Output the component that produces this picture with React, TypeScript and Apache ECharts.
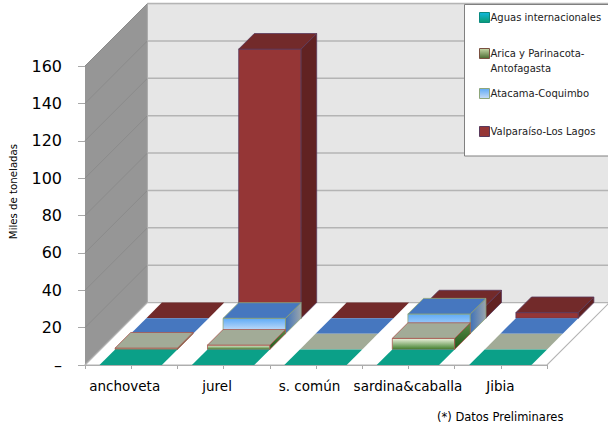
import React, { useEffect, useRef } from "react";
import * as echarts from "echarts";

const categories = ["anchoveta", "jurel", "s. común", "sardina&caballa", "Jibia"];
const categoryPad = [13, 13, 13, 1, 1];
const aguas = [0, 0, 0, 0, 0];
const arica = [0.7, 2.3, 0, 5.9, 0];
const atacama = [0, 8.3, 0, 10.6, 0];
const valparaiso = [0, 144, 0, 6.6, 3];
const yTicks = [0, 20, 40, 60, 80, 100, 120, 140, 160];

const FONT = "DejaVu Sans";
const ROW = 15.6;
const ROWS = 4;
const GAP = 0.157;
const BAR = 0.675;

const grad = (a: string, b: string, horizontal = false) =>
  new echarts.graphic.LinearGradient(0, 0, horizontal ? 1 : 0, horizontal ? 0 : 1, [
    { offset: 0, color: a },
    { offset: 1, color: b },
  ]);

const looks = [
  { top: "#0ba088", front: grad("#12b8d8", "#0a9a70"), side: grad("#0a8a80", "#086a50"), edge: "#0ba088" },
  { top: "#a2ab97", front: grad("#eef3df", "#3f7f2c"), side: grad("#5c8a48", "#1e5a1a"), edge: "#a8584f" },
  { top: "#4677bf", front: grad("#5eaaf6", "#dde9f9"), side: grad("#3f72b8", "#9aa5ad", true), edge: "#8ea67a" },
  { top: "#722a2a", front: "#953636", side: "#612222", edge: "#5a3a5c" },
];

const bars = (row: number) => (params: any, api: any) => {
  const i = api.value(0);
  const v = api.value(1);
  const off = ROW * row;
  const [x0, y0] = api.coord([i + GAP, 0]);
  const [x1] = api.coord([i + GAP + BAR, 0]);
  const [, yTop] = api.coord([i, v]);
  const l = x0 + off, r = x1 + off, b = y0 - off, t = yTop - off;
  const look = looks[row];
  const poly = (points: number[][], fill: any, stroke: any) => ({
    type: "polygon",
    shape: { points },
    style: { fill, stroke, lineWidth: 0.8 },
  });
  const children: any[] = [];
  if (v > 0) {
    children.push(poly([[l, b], [r, b], [r, t], [l, t]], look.front, look.edge));
    children.push(poly([[r, b], [r + ROW, b - ROW], [r + ROW, t - ROW], [r, t]], look.side, look.edge));
  }
  children.push(poly([[l, t], [r, t], [r + ROW, t - ROW], [l + ROW, t - ROW]], look.top, v > 0 ? look.edge : "none"));
  return { type: "group", children };
};

const walls = (params: any, api: any) => {
  const d = ROW * ROWS;
  const [xl, yb] = api.coord([0, 0]);
  const [xr] = api.coord([5, 0]);
  const [, yt] = api.coord([0, 160]);
  const children: any[] = [
    { type: "polygon", shape: { points: [[xl, yb], [xl + d, yb - d], [xl + d, yt - d], [xl, yt]] }, style: { fill: "#969696" } },
    { type: "polygon", shape: { points: [[xl + d, yb - d], [xr + d, yb - d], [xr + d, yt - d], [xl + d, yt - d]] }, style: { fill: "#e6e6e6", stroke: "#a6a6a6", lineWidth: 1 } },
    { type: "polygon", shape: { points: [[xl, yb], [xr, yb], [xr + d, yb - d], [xl + d, yb - d]] }, style: { fill: "#ffffff", stroke: "#b4b4b4", lineWidth: 1.2 } },
  ];
  yTicks.slice(1).forEach((tick) => {
    const [, y] = api.coord([0, tick]);
    children.push({ type: "line", shape: { x1: xl, y1: y, x2: xl + d, y2: y - d }, style: { stroke: "#8b8b8b", lineWidth: 1 } });
    children.push({ type: "line", shape: { x1: xl + d, y1: y - d, x2: xr + d, y2: y - d }, style: { stroke: "#b4b4b4", lineWidth: 1.5 } });
  });
  return { type: "group", children };
};

const rows = [
  { name: "Valparaíso-Los Lagos", values: valparaiso, row: 3 },
  { name: "Atacama-Coquimbo", values: atacama, row: 2 },
  { name: "Arica y Parinacota-Antofagasta", values: arica, row: 1 },
  { name: "Aguas internacionales", values: aguas, row: 0 },
];

const legendEntries = [
  { name: "Aguas internacionales", top: 10, color: grad("#10b8e0", "#0a9a70"), border: "#0a8a80", text: "Aguas internacionales" },
  { name: "Arica y Parinacota-Antofagasta", top: 31, color: grad("#c8d8a8", "#4a6a30"), border: "#7a5040", text: "\nArica y Parinacota-\nAntofagasta" },
  { name: "Atacama-Coquimbo", top: 86, color: grad("#5eaaf6", "#c8dcf4"), border: "#8ea67a", text: "Atacama-Coquimbo" },
  { name: "Valparaíso-Los Lagos", top: 124, color: "#953636", border: "#5a3a5c", text: "Valparaíso-Los Lagos" },
];

export default function App() {
  const ref = useRef<HTMLDivElement>(null);
  useEffect(() => {
    const chart = echarts.init(ref.current!, undefined, { renderer: "svg" });
    chart.setOption({
      animation: false,
      backgroundColor: "#ffffff",
      grid: { left: 85, top: 66, width: 462, height: 299, outerBoundsMode: "none" },
      xAxis: {
        type: "value",
        min: 0,
        max: 5,
        interval: 0.5,
        splitLine: { show: false },
        axisLine: { show: true, lineStyle: { color: "#a8a8a8", width: 1.2 } },
        axisTick: { show: true, length: 4, lineStyle: { color: "#a8a8a8" } },
        axisLabel: {
          margin: 14,
          showMinLabel: true,
          showMaxLabel: true,
          hideOverlap: false,
          formatter: (v: number) => {
            const i = Math.floor(v);
            return v - i === 0.5 ? `{c${i}|${categories[i]}}` : "";
          },
          rich: Object.fromEntries(
            categories.map((_, i) => [
              `c${i}`,
              { fontFamily: FONT, fontSize: 13.5, color: "#000", padding: [0, categoryPad[i], 0, 0] },
            ])
          ),
        },
      },
      yAxis: {
        type: "value",
        min: 0,
        max: 160,
        interval: 20,
        name: "Miles de toneladas",
        nameLocation: "middle",
        nameGap: 67,
        nameTextStyle: { fontFamily: FONT, fontSize: 10.2, color: "#000", padding: [0, 0, 0, 48] },
        splitLine: { show: false },
        axisLine: { show: false },
        axisTick: { show: true, length: 7, lineStyle: { color: "#a8a8a8" } },
        axisLabel: {
          margin: 23,
          fontFamily: FONT,
          fontSize: 16,
          color: "#000",
          formatter: (v: number) => (v === 0 ? "–" : String(v)),
        },
      },
      legend: legendEntries.map((e) => ({
        data: [{ name: e.name, itemStyle: { color: e.color, borderColor: e.border, borderWidth: 1 } }],
        left: 479,
        top: e.top,
        orient: "vertical",
        itemWidth: 10,
        itemHeight: 10,
        itemGap: 0,
        padding: 0,
        selectedMode: false,
        icon: "rect",
        formatter: () => e.text,
        textStyle: { fontFamily: FONT, fontSize: 10, lineHeight: 15, color: "#222", padding: [0, 0, 0, -4] },
        z: 10,
      })),
      title: {
        text: "(*) Datos Preliminares",
        left: 437,
        top: 411,
        padding: 0,
        textStyle: { fontFamily: FONT, fontSize: 11.5, fontWeight: "normal", color: "#000" },
      },
      graphic: [
        {
          type: "rect",
          z: 5,
          shape: { x: 464.5, y: 4.5, width: 150, height: 151.5 },
          style: { fill: "#ffffff", stroke: "#808080", lineWidth: 1 },
        },
      ],
      series: [
        { type: "custom", name: "muros", silent: true, renderItem: walls, data: [[0, 0]], encode: { x: 0, y: 1 }, z: 1 },
        ...rows.map((r) => ({
          type: "custom",
          name: r.name,
          silent: true,
          renderItem: bars(r.row),
          data: r.values.map((v, i) => [i, v]),
          encode: { x: 0, y: 1 },
          itemStyle: { color: looks[r.row].top },
          z: 2,
        })),
      ],
    });
    return () => chart.dispose();
  }, []);
  return <div ref={ref} style={{ position: "fixed", left: 0, top: 0, width: 608, height: 429 }} />;
}
